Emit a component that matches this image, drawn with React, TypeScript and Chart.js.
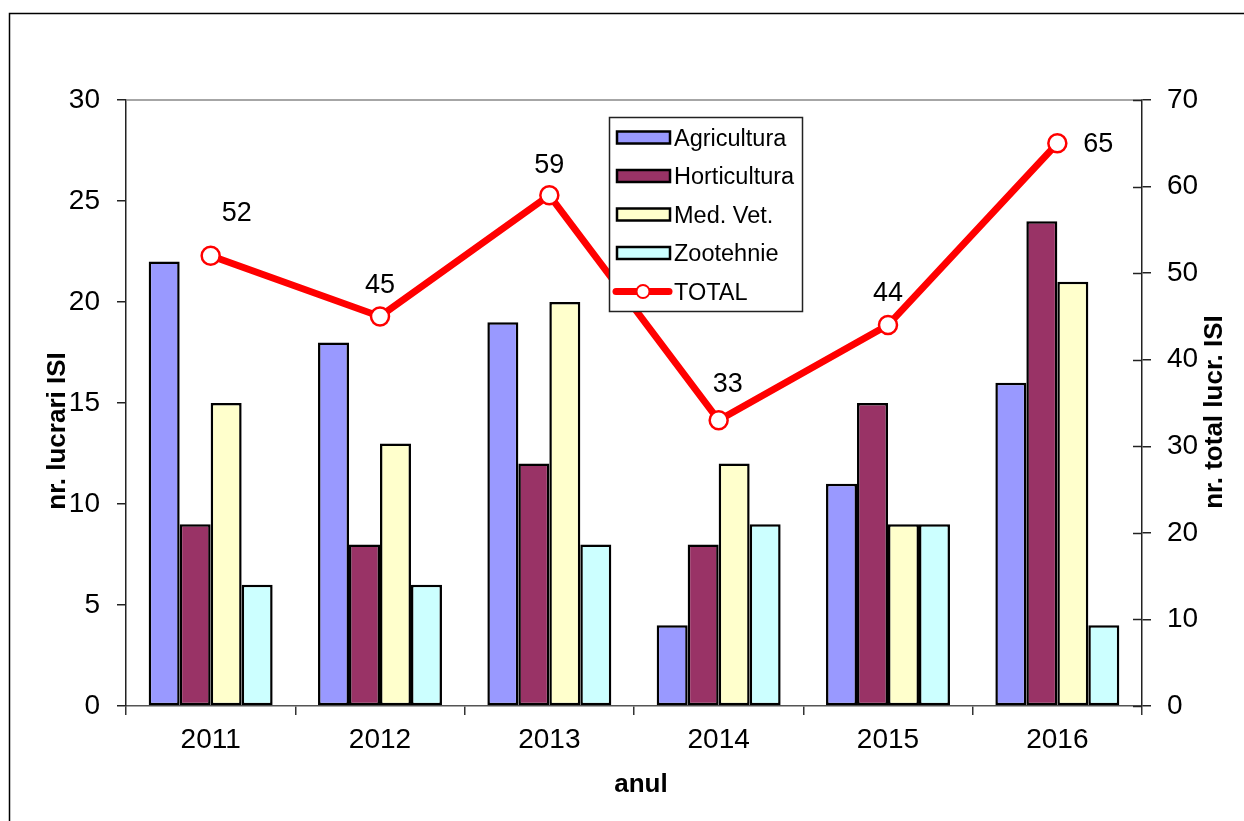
import React, { useEffect, useRef } from "react";
import { Chart, registerables } from "chart.js";

Chart.register(...registerables);

const years = ["2011", "2012", "2013", "2014", "2015", "2016"];
const agricultura = [22, 18, 19, 4, 11, 16];
const horticultura = [9, 8, 12, 8, 15, 24];
const medVet = [15, 13, 20, 12, 9, 21];
const zootehnie = [6, 6, 8, 9, 9, 4];
const total = [52, 45, 59, 33, 44, 65];
const leftTickValues = [0, 5, 10, 15, 20, 25, 30];
const rightTickValues = [0, 10, 20, 30, 40, 50, 60, 70];

const FONT = '"Liberation Sans", Arial, Helvetica, sans-serif';
const COLORS = {
  agri: "#9999FF",
  horti: "#993366",
  med: "#FFFFCC",
  zoo: "#CCFFFF",
  total: "#FF0000",
};
// pixel offsets of the TOTAL value labels relative to their points (style only)
const labelOffsets: [number, number][] = [
  [26, -43],
  [0, -32],
  [0, -31],
  [9, -37],
  [0, -33],
  [41, 0],
];

const decorPlugin = {
  id: "decor",
  beforeDraw(chart: any) {
    const { ctx, width, height } = chart;
    ctx.save();
    ctx.fillStyle = "#fff";
    ctx.fillRect(0, 0, width, height);
    ctx.strokeStyle = "#000";
    ctx.lineWidth = 1.5;
    ctx.strokeRect(9.5, 13.5, width + 10, height + 10);
    ctx.restore();
  },
  beforeDatasetsDraw(chart: any) {
    const { ctx, chartArea } = chart;
    ctx.save();
    ctx.strokeStyle = "#888";
    ctx.lineWidth = 1.5;
    ctx.beginPath();
    ctx.moveTo(chartArea.left, chartArea.top);
    ctx.lineTo(chartArea.right, chartArea.top);
    ctx.stroke();
    ctx.restore();
  },
  afterDatasetsDraw(chart: any) {
    const { ctx, chartArea } = chart;
    const y1 = chart.scales.y1;
    ctx.save();
    // inner ticks of the right axis
    ctx.strokeStyle = "#222";
    ctx.lineWidth = 1.5;
    rightTickValues.forEach((v) => {
      const y = Math.round(y1.getPixelForValue(v)) + 0.5;
      ctx.beginPath();
      ctx.moveTo(chartArea.right - 9, y);
      ctx.lineTo(chartArea.right, y);
      ctx.stroke();
    });
    // TOTAL value labels
    const meta = chart.getDatasetMeta(4);
    ctx.fillStyle = "#000";
    ctx.font = `27px ${FONT}`;
    ctx.textAlign = "center";
    ctx.textBaseline = "middle";
    meta.data.forEach((pt: any, i: number) => {
      const [dx, dy] = labelOffsets[i];
      ctx.fillText(String(total[i]), pt.x + dx, pt.y + dy + 1);
    });
    ctx.restore();
  },
  afterDraw(chart: any) {
    const { ctx } = chart;
    ctx.save();
    // legend box
    const bx = 609, by = 117, bw = 193, bh = 194;
    ctx.fillStyle = "#fff";
    ctx.fillRect(bx, by, bw, bh);
    ctx.strokeStyle = "#222";
    ctx.lineWidth = 1.5;
    ctx.strokeRect(bx + 0.5, by + 0.5, bw, bh);
    const items = [
      { label: "Agricultura", color: COLORS.agri },
      { label: "Horticultura", color: COLORS.horti },
      { label: "Med. Vet.", color: COLORS.med },
      { label: "Zootehnie", color: COLORS.zoo },
      { label: "TOTAL", color: null },
    ];
    ctx.font = `23.5px ${FONT}`;
    ctx.textAlign = "left";
    ctx.textBaseline = "alphabetic";
    items.forEach((it, i) => {
      const cy = 137.5 + 38.5 * i;
      if (it.color) {
        ctx.fillStyle = it.color;
        ctx.fillRect(617, cy - 6, 53, 12);
        ctx.strokeStyle = "#000";
        ctx.lineWidth = 2.5;
        ctx.strokeRect(617, cy - 6, 53, 12);
      } else {
        ctx.strokeStyle = COLORS.total;
        ctx.lineWidth = 7;
        ctx.lineCap = "round";
        ctx.beginPath();
        ctx.moveTo(616, cy);
        ctx.lineTo(669, cy);
        ctx.stroke();
        ctx.lineCap = "butt";
        ctx.beginPath();
        ctx.arc(643, cy, 6.5, 0, Math.PI * 2);
        ctx.fillStyle = "#fff";
        ctx.fill();
        ctx.lineWidth = 2;
        ctx.stroke();
      }
      ctx.fillStyle = "#000";
      ctx.fillText(it.label, 674, cy + 8);
    });
    // axis titles
    ctx.font = `bold 26px ${FONT}`;
    ctx.fillStyle = "#000";
    ctx.textAlign = "center";
    ctx.textBaseline = "alphabetic";
    ctx.fillText("anul", 641, 792);
    ctx.save();
    ctx.translate(65, 431);
    ctx.rotate(-Math.PI / 2);
    ctx.fillText("nr. lucrari ISI", 0, 0);
    ctx.restore();
    ctx.save();
    ctx.translate(1222, 412);
    ctx.rotate(-Math.PI / 2);
    ctx.fillText("nr. total lucr. ISI", 0, 0);
    ctx.restore();
    ctx.restore();
  },
};

export default function App() {
  const canvasRef = useRef<HTMLCanvasElement | null>(null);

  useEffect(() => {
    const canvas = canvasRef.current;
    if (!canvas) return;
    const barCommon = {
      type: "bar" as const,
      yAxisID: "y",
      borderColor: "#000",
      borderWidth: 2.5,
      borderSkipped: false,
      inflateAmount: 0,
      categoryPercentage: 0.732,
      barPercentage: 1,
      order: 1,
    };
    const chart = new Chart(canvas, {
      type: "bar",
      data: {
        labels: years,
        datasets: [
          { ...barCommon, label: "Agricultura", data: agricultura, backgroundColor: COLORS.agri },
          { ...barCommon, label: "Horticultura", data: horticultura, backgroundColor: COLORS.horti },
          { ...barCommon, label: "Med. Vet.", data: medVet, backgroundColor: COLORS.med },
          { ...barCommon, label: "Zootehnie", data: zootehnie, backgroundColor: COLORS.zoo },
          {
            type: "line",
            label: "TOTAL",
            data: total,
            yAxisID: "y1",
            borderColor: COLORS.total,
            borderWidth: 7,
            tension: 0,
            pointRadius: 9,
            pointBorderWidth: 2.5,
            pointBackgroundColor: "#fff",
            pointBorderColor: COLORS.total,
            order: 0,
          } as any,
        ],
      },
      options: {
        responsive: false,
        animation: false,
        devicePixelRatio: 1,
        layout: { padding: { left: 0, right: 0, top: 100, bottom: 0 } },
        plugins: {
          legend: { display: false },
          tooltip: { enabled: false },
          title: { display: false },
        },
        scales: {
          x: {
            offset: true,
            grid: {
              display: true,
              offset: true,
              drawOnChartArea: false,
              drawTicks: true,
              tickLength: 9,
              color: "#333",
              lineWidth: 1.5,
            },
            border: { display: true, color: "#555", width: 1.5 },
            ticks: { font: { family: FONT, size: 28 }, color: "#000", padding: 8 },
            afterFit: (s: any) => {
              s.height = 115;
            },
          },
          y: {
            position: "left",
            min: 0,
            max: 30,
            afterBuildTicks: (s: any) => {
              s.ticks = leftTickValues.map((v) => ({ value: v }));
            },
            ticks: { font: { family: FONT, size: 28 }, color: "#000", padding: 17 },
            grid: { drawOnChartArea: false, drawTicks: true, tickLength: 9, color: "#222", lineWidth: 1.5 },
            border: { display: true, color: "#222", width: 1.5 },
            afterFit: (s: any) => {
              s.width = 126;
            },
          },
          y1: {
            position: "right",
            min: 0,
            max: 70,
            afterBuildTicks: (s: any) => {
              s.ticks = rightTickValues.map((v) => ({ value: v }));
            },
            ticks: { font: { family: FONT, size: 28 }, color: "#000", padding: 16 },
            grid: { drawOnChartArea: false, drawTicks: true, tickLength: 9, color: "#222", lineWidth: 1.5 },
            border: { display: true, color: "#222", width: 1.5 },
            afterFit: (s: any) => {
              s.width = 102;
            },
          },
        },
      } as any,
      plugins: [decorPlugin],
    });
    return () => chart.destroy();
  }, []);

  return (
    <div style={{ position: "fixed", left: 0, top: 0, width: 1244, height: 821, background: "#fff" }}>
      <canvas ref={canvasRef} width={1244} height={821} style={{ display: "block" }} />
    </div>
  );
}
